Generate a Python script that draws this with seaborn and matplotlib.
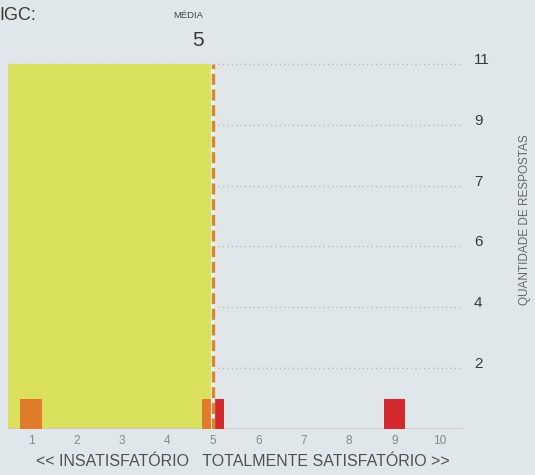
import matplotlib

matplotlib.use("Agg")
import matplotlib.pyplot as plt
import matplotlib.transforms as mtransforms
import numpy as np
import pandas as pd
import seaborn as sns

# data
scores = [1, 2, 3, 4, 5, 6, 7, 8, 9, 10]
orange_counts = [1, 0, 0, 0, 1, 0, 0, 0, 0, 0]
red_counts = [0, 0, 0, 0, 1, 0, 0, 0, 1, 0]
mean_score = 5
y_tick_labels = ["2", "4", "6", "7", "9", "11"]
title = "IGC:"
mean_label = "MÉDIA"
x_caption = "<< INSATISFATÓRIO   TOTALMENTE SATISFATÓRIO >>"
y_caption = "QUANTIDADE DE RESPOSTAS"

BG = "#dfe7ea"
YELLOW = "#d8e05c"
ORANGE = "#e27a2c"
RED = "#d42a2e"
MEAN_C = "#d8882c"

sns.set_theme(style="white")
plt.rcParams["font.family"] = ["Liberation Sans", "DejaVu Sans"]

W, H = 535, 475
fig = plt.figure(figsize=(W / 100, H / 100), dpi=100, facecolor=BG)

# axes geometry in pixels: baseline y=429, top gridline y=64, x from 8 to 463
unit_y = (429 - 64) / 12
ytop = 12.3
ax = fig.add_axes([8.3 / W, (H - 429) / H, 454.4 / W, ytop * unit_y / H])
ax.set_facecolor(BG)

df = pd.DataFrame({
    "score": scores * 2,
    "count": orange_counts + red_counts,
    "grupo": ["a"] * len(scores) + ["b"] * len(scores),
})

# yellow band from the left edge up to the mean, full height
ax.fill_between([0.5, mean_score], 0, 12, color=YELLOW, lw=0, zorder=1)

sns.barplot(data=df, x="score", y="count", hue="grupo", palette=[ORANGE, RED],
            native_scale=True, dodge=False, width=0.48, legend=False,
            saturation=1, linewidth=0, ax=ax, zorder=3)

# split bars where both groups share a score
for s in scores:
    hits = [p for p in ax.patches
            if p.get_height() > 0 and abs(p.get_x() + p.get_width() / 2 - s) < 0.01]
    if len(hits) == 2:
        w = hits[0].get_width()
        x0 = hits[0].get_x()
        hits[0].set_width(w / 2)
        hits[1].set_x(x0 + w / 2)
        hits[1].set_width(w / 2)

# mean line
ax.vlines(mean_score, 0, 12, color="#eef0e8", lw=3, zorder=4)
ax.vlines(mean_score, 0, 12, color=MEAN_C, lw=2.4, linestyles=(0, (3.3, 1.4)), zorder=5)

ax.axhline(0, color="#d9c3c6", lw=1.2, zorder=2)

ax.set_xlim(0.5, 10.5)
ax.set_ylim(0, ytop)
ax.set_xticks(scores)
ax.set_xticklabels([str(s) for s in scores])
ax.set_yticks(np.arange(2, 13, 2))
ax.set_yticklabels(y_tick_labels)
ax.yaxis.tick_right()
ax.tick_params(axis="x", length=0, pad=4, labelsize=8.5, labelcolor="#888888")
ax.tick_params(axis="y", length=0, pad=8, labelsize=11, labelcolor="#3a3a3a")
for lab in ax.get_yticklabels():
    lab.set_transform(lab.get_transform() + mtransforms.ScaledTranslation(0, 4 / 72, fig.dpi_scale_trans))
ax.grid(axis="y", color="#b0b8bc", lw=0.9, linestyle=(0, (1, 2.5)), zorder=0)
ax.grid(axis="x", visible=False)
ax.set_axisbelow(True)
ax.set_xlabel("")
ax.set_ylabel("")
sns.despine(ax=ax, left=True, bottom=True, right=True, top=True)

fig.text(-1 / W, 1 - 15 / H, title, fontsize=13, color="#3a3a3a", ha="left", va="center")
fig.text(188 / W, 1 - 15 / H, mean_label, fontsize=6.8, color="#444444", ha="center", va="center")
fig.text(198 / W, 1 - 40 / H, str(mean_score), fontsize=15, color="#3a3a3a", ha="center", va="center")
fig.text(243 / W, 1 - 462 / H, x_caption, fontsize=11.5, color="#505050", ha="center", va="center")
fig.text(525 / W, 1 - 220 / H, y_caption, fontsize=8.5, color="#666666", ha="center",
         va="center", rotation=90)

fig.savefig("out.png", dpi=100, facecolor=BG)
